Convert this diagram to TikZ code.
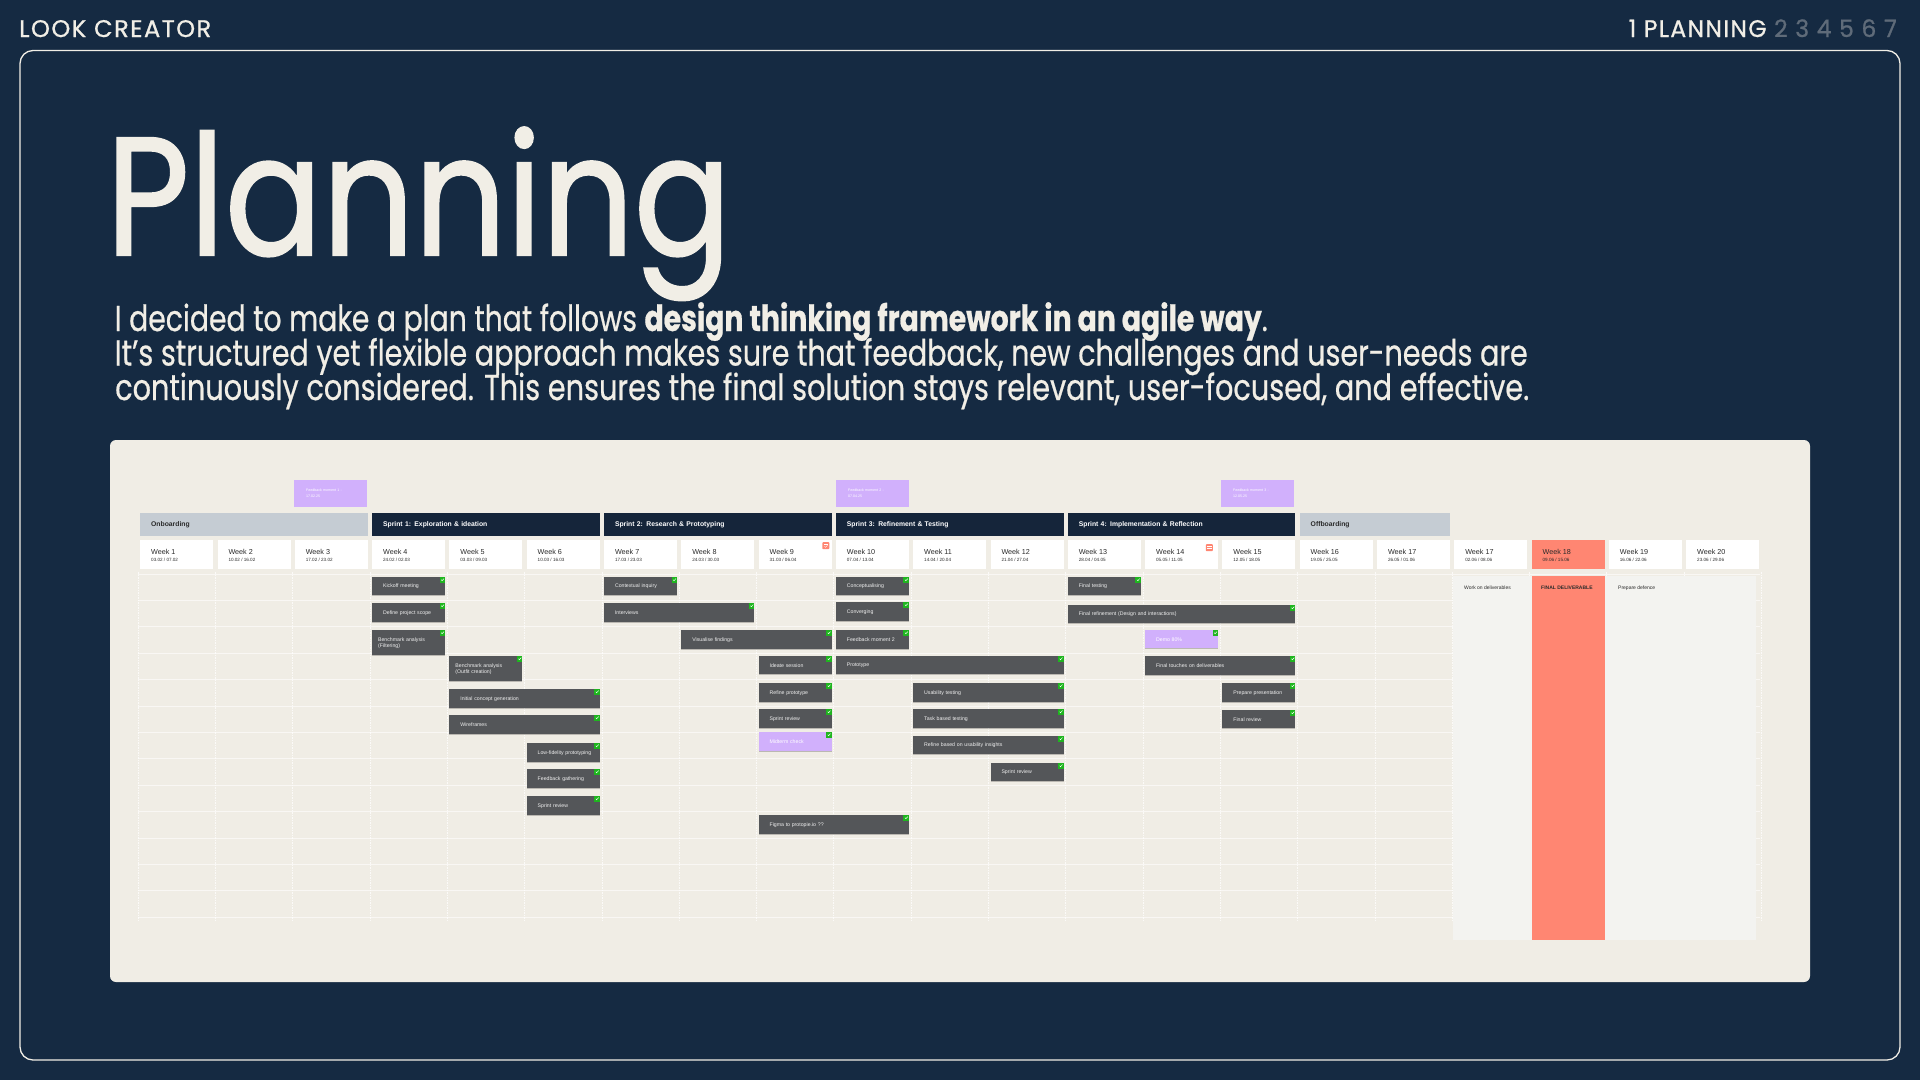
\documentclass[tikz,border=0pt]{standalone}
\usepackage{fontspec}
\usepackage{graphicx}
\setmainfont{Liberation Sans}
\newfontfamily\pop{Poppins}[FakeBold=0.7]
\newfontfamily\poptitle{Poppins}[FakeBold=1.3]
\newfontfamily\popsp{Poppins}[LetterSpace=6,FakeBold=0.9]
\usetikzlibrary{shadows}
\definecolor{bgnavy}{HTML}{152A42}
\definecolor{cream}{HTML}{F1EEE6}
\definecolor{navgrey}{HTML}{5F6B79}
\definecolor{panel}{HTML}{F0EDE5}
\definecolor{sprintnavy}{HTML}{15253A}
\definecolor{onboard}{HTML}{C5CCD3}
\definecolor{taskgrey}{HTML}{545659}
\definecolor{salmon}{HTML}{FF8672}
\definecolor{lilac}{HTML}{D1B0FC}
\definecolor{lightpanel}{HTML}{F3F3F0}
\definecolor{chkgreen}{HTML}{1FB51F}
\definecolor{wktext}{HTML}{2B2B2B}
\newcommand\dsl{\ /\ }
\newcommand\tbar[7][]{%
  \pgfmathsetmacro\tbx{140+#3*77.3}%
  \pgfmathsetmacro\tbw{73+(#6-1)*77.3}%
  \pgfmathsetmacro\tbt{\tbw-14}%
  \node[taskbox,minimum width=\tbw pt,minimum height=#5pt,text width=\tbt pt,#1] (#2) at (\tbx,#4) {#7};
  \node[chk] (#2c) at (#2.north east) {};
  \draw[tick] ([shift={(-4.1pt,-2.7pt)}]#2.north east) -- ++(0.9pt,-1pt) -- ++(1.9pt,2.1pt);
}
\tikzset{
  taskbox/.style={anchor=north west,fill=taskgrey,text=white!88!gray,inner xsep=7pt,inner ysep=0pt,
    align=left,font=\fontsize{5.2}{6}\selectfont,
    drop shadow={shadow xshift=0pt,shadow yshift=-1.2pt,opacity=0.22,fill=black}},
  purplebar/.style={fill=lilac,text=white},
  chk/.style={anchor=north east,fill=chkgreen,minimum size=5.5pt,inner sep=0pt,draw=none},
  tick/.style={white,line width=0.45pt},
  weekbox/.style={anchor=north west,minimum width=73pt,minimum height=29pt,inner sep=0pt,draw=none},
  wklab/.style={anchor=base west,inner sep=0pt,text=wktext,font=\fontsize{7.2}{8}\selectfont},
  wkdate/.style={anchor=base west,inner sep=0pt,text=wktext,font=\fontsize{4.6}{5}\selectfont},
  hdr/.style={anchor=north west,minimum height=23pt,inner xsep=11pt,inner ysep=0pt,text width=#1,align=left,
    font=\fontsize{6.8}{8}\selectfont\bfseries},
  note/.style={anchor=north west,fill=lilac,text=white,minimum width=73pt,minimum height=27pt,inner xsep=12pt,
    inner ysep=0pt,text width=49pt,align=left,font=\fontsize{3.6}{6}\selectfont},
  gridv/.style={white,opacity=0.75,line width=0.6pt,dash pattern=on 1.5pt off 1pt},
  gridh/.style={white,opacity=0.6,line width=0.7pt},
  para/.style={anchor=base west,inner sep=0pt,text=cream},
  small/.style={anchor=base west,inner sep=0pt,text=wktext,font=\fontsize{5}{6}\selectfont},
  calicon/.style={anchor=north east,fill=salmon,minimum size=7pt,inner sep=0pt,rounded corners=0.8pt}
}
\begin{document}
\begin{tikzpicture}[x=1pt,y=-1pt]
\useasboundingbox (0,0) rectangle (1920,1080);
\fill[bgnavy] (0,0) rectangle (1920,1080);
% header
\node[anchor=base west,inner sep=0pt,text=cream] (brand) at (19,37) {\resizebox{192pt}{\height}{\popsp\fontsize{24}{24}\selectfont LOOK CREATOR}};
\node[anchor=base east,inner sep=0pt] (nav) at (1897,37) {\resizebox{268pt}{\height}{\popsp\fontsize{24}{24}\selectfont\color{cream}1 PLANNING \color{navgrey}2 3 4 5 6 7}};
% frame
\draw[cream,line width=1.3pt,rounded corners=13pt] (20,50.5) rectangle (1900,1060);
% title
\node[para] (title) at (106,255) {\resizebox{625pt}{\height}{\poptitle\fontsize{168}{168}\selectfont Planning}};
\node[para] (l1) at (114.5,331) {\resizebox{1153pt}{\height}{\pop\fontsize{36}{36}\selectfont I decided to make a plan that follows \textbf{design thinking framework in an agile way}.}};
\node[para] (l2) at (114.5,365.5) {\resizebox{1413pt}{\height}{\pop\fontsize{36}{36}\selectfont It’s structured yet flexible approach makes sure that feedback, new challenges and user-needs are}};
\node[para] (l3) at (115,400) {\resizebox{1414pt}{\height}{\pop\fontsize{36}{36}\selectfont continuously considered. This ensures the final solution stays relevant, user-focused, and effective.}};
% chart panel
\fill[panel,rounded corners=6pt] (110,440) rectangle (1810,982);
% grid
\foreach \c in {0,...,21} {\pgfmathsetmacro\gx{138+\c*77.3}\draw[gridv] (\gx,572) -- (\gx,922);}
\foreach \r in {0,...,13} {\pgfmathsetmacro\gy{574+\r*26.4}\draw[gridh] (138,\gy) -- (1760,\gy);}
% top notes
\node[note] (n1) at (294,480) {Feedback moment 1 -\\17.02.25};
\node[note] (n2) at (836,480) {Feedback moment 2 -\\07.04.25};
\node[note] (n3) at (1221,480) {Feedback moment 3 -\\12.05.25};
% phase headers
\node[hdr=205.6pt,fill=onboard,text=wktext] (onb) at (140,513) {Onboarding};
\node[hdr=205.6pt,fill=sprintnavy,text=white] (sp1) at (371.9,513) {Sprint 1: Exploration \& ideation};
\node[hdr=205.6pt,fill=sprintnavy,text=white] (sp2) at (603.8,513) {Sprint 2: Research \& Prototyping};
\node[hdr=205.6pt,fill=sprintnavy,text=white] (sp3) at (835.7,513) {Sprint 3: Refinement \& Testing};
\node[hdr=205.6pt,fill=sprintnavy,text=white] (sp4) at (1067.6,513) {Sprint 4: Implementation \& Reflection};
\node[hdr=128.3pt,fill=onboard,text=wktext] (offb) at (1299.5,513) {Offboarding};
% weeks
\foreach \lab/\dat [count=\i from 0] in {Week 1/03.02\dsl 07.02, Week 2/10.02\dsl 16.02, Week 3/17.02\dsl 23.02, Week 4/24.02\dsl 02.03, Week 5/03.03\dsl 09.03, Week 6/10.03\dsl 16.03, Week 7/17.03\dsl 23.03, Week 8/24.03\dsl 30.03, Week 9/31.03\dsl 06.04, Week 10/07.04\dsl 13.04, Week 11/14.04\dsl 20.04, Week 12/21.04\dsl 27.04, Week 13/28.04\dsl 04.05, Week 14/05.05\dsl 11.05, Week 15/12.05\dsl 18.05, Week 16/19.05\dsl 25.05, Week 17/26.05\dsl 01.06, Week 17/02.06\dsl 08.06, Week 18/09.06\dsl 15.06, Week 19/16.06\dsl 22.06, Week 20/23.06\dsl 29.06} {
  \pgfmathsetmacro\wx{140+\i*77.3}
  \ifnum\i=18 \def\wf{salmon}\else\def\wf{white}\fi
  \node[weekbox,fill=\wf] (w\i) at (\wx,540) {};
  \node[wklab] (wl\i) at ({\wx+11},554) {\lab};
  \node[wkdate] (wd\i) at ({\wx+11},561.5) {\dat};
}
% calendar icons
\node[calicon] (cal9) at (829.5,542) {};
\draw[white,line width=0.5pt] ([shift={(-5.6pt,-2.2pt)}]cal9.north east) -- ++(4.2pt,0pt);
\draw[white,line width=0.4pt] ([shift={(-5pt,-4.3pt)}]cal9.north east) -- ++(1pt,-1pt) -- ++(2pt,2pt);
\node[calicon] (cal14) at (1213,544) {};
\draw[white,line width=0.5pt] ([shift={(-5.6pt,-2.2pt)}]cal14.north east) -- ++(4.2pt,0pt);
\draw[white,line width=0.5pt] ([shift={(-5.6pt,-4.6pt)}]cal14.north east) -- ++(4.2pt,0pt);
% right area
\node[anchor=north west,fill=lightpanel,minimum width=303pt,minimum height=364pt,inner sep=0pt] (deliv) at (1453,576) {};
\node[anchor=north west,fill=salmon,minimum width=73pt,minimum height=364pt,inner sep=0pt] (finaldel) at (1531.4,576) {};
\node[small] (t1) at (1464,589) {Work on deliverables};
\node[small,font=\fontsize{5}{6}\selectfont\bfseries] (t2) at (1541,589) {FINAL DELIVERABLE};
\node[small] (t3) at (1618,589) {Prepare defence};
% sprint 1 tasks
\tbar{kick}{3}{577}{18}{1}{\hspace*{4pt}Kickoff meeting}
\tbar{scope}{3}{603}{19}{1}{\hspace*{4pt}Define project scope}
\tbar[inner xsep=6pt,text width=61pt]{bencha}{3}{630}{25}{1}{Benchmark analysis\\(Filtering)}
\tbar[inner xsep=6pt,text width=61pt]{benchb}{4}{656}{25}{1}{Benchmark analysis\\(Outfit creation)}
\tbar{concept}{4}{689}{19}{2}{\hspace*{4pt}Initial concept generation}
\tbar{wire}{4}{715}{19}{2}{\hspace*{4pt}Wireframes}
\tbar{lofi}{5}{743}{19}{1}{\hspace*{4pt}Low-fidelity prototyping}
\tbar{fbg}{5}{769}{19}{1}{\hspace*{4pt}Feedback gathering}
\tbar{rev1}{5}{796}{19}{1}{\hspace*{4pt}Sprint review}
% sprint 2 tasks
\tbar{ctx}{6}{577}{18}{1}{\hspace*{4pt}Contextual inquiry}
\tbar{intv}{6}{603}{19}{2}{\hspace*{4pt}Interviews}
\tbar{vis}{7}{630}{19}{2}{\hspace*{4pt}Visualise findings}
\tbar{ideate}{8}{656}{18}{1}{\hspace*{4pt}Ideate session}
\tbar{refp}{8}{683}{19}{1}{\hspace*{4pt}Refine prototype}
\tbar{rev2}{8}{709}{19}{1}{\hspace*{4pt}Sprint review}
\tbar[purplebar]{mid}{8}{732}{19}{1}{\hspace*{4pt}Midterm check}
\tbar{figma}{8}{815}{19}{2}{\hspace*{4pt}Figma to protopie.io ??}
% sprint 3 tasks
\tbar{concp}{9}{577}{18}{1}{\hspace*{4pt}Conceptualising}
\tbar{conv}{9}{602}{19}{1}{\hspace*{4pt}Converging}
\tbar{fbm}{9}{630}{19}{1}{\hspace*{4pt}Feedback moment 2}
\tbar{proto}{9}{656}{18}{3}{\hspace*{4pt}Prototype}
\tbar{usab}{10}{683}{19}{2}{\hspace*{4pt}Usability testing}
\tbar{taskb}{10}{709}{19}{2}{\hspace*{4pt}Task based testing}
\tbar{refb}{10}{736}{18}{2}{\hspace*{4pt}Refine based on usability insights}
\tbar{rev3}{11}{763}{18}{1}{\hspace*{4pt}Sprint review}
% sprint 4 tasks
\tbar{ftest}{12}{577}{18}{1}{\hspace*{4pt}Final testing}
\tbar{fref}{12}{605}{18}{3}{\hspace*{4pt}Final refinement (Design and interactions)}
\tbar[purplebar]{demo}{13}{630}{18}{1}{\hspace*{4pt}Demo 80\%}
\tbar{touch}{13}{656}{19}{2}{\hspace*{4pt}Final touches on deliverables}
\tbar{pres}{14}{683}{19}{1}{\hspace*{4pt}Prepare presentation}
\tbar{frev}{14}{710}{18}{1}{\hspace*{4pt}Final review}
\end{tikzpicture}
\end{document}
